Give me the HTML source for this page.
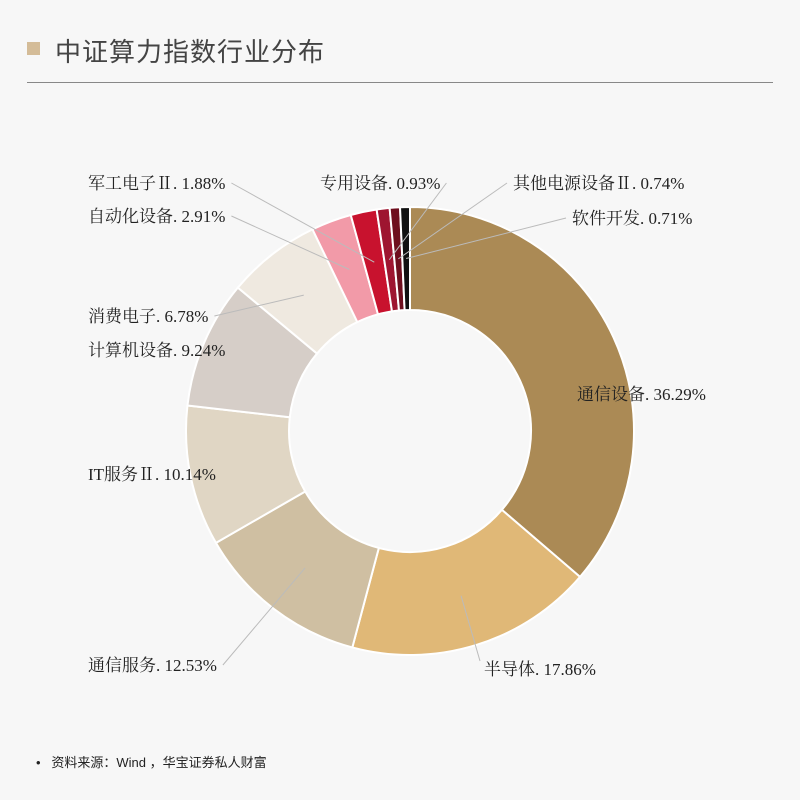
<!DOCTYPE html>
<html><head><meta charset="utf-8">
<style>
body{margin:0;background:#f7f7f7;width:800px;height:800px;overflow:hidden;font-family:"Liberation Serif","Noto Serif CJK SC","Noto Sans CJK SC",serif;}
#title{position:absolute;left:55px;top:32px;font-size:26px;color:#444;font-family:"Liberation Sans","Noto Sans CJK SC",sans-serif;letter-spacing:1px}
#title-mark{position:absolute;left:27px;top:42px;width:13px;height:13px;background:#d4bc98}
#rule{position:absolute;left:27px;top:82px;width:746px;height:1px;background:#888}
#src{position:absolute;left:36px;top:752px;font-size:13px;color:#222;font-family:"Liberation Sans","Noto Sans CJK SC",sans-serif}
svg{position:absolute;left:0;top:0}
</style></head><body>
<div id="title-mark"></div>
<div id="title">中证算力指数行业分布</div>
<div id="rule"></div>
<svg id="chart" width="800" height="800"></svg>
<div id="src">•&nbsp;&nbsp;&nbsp;资料来源：Wind ，华宝证券私人财富</div>
<script>
const categories=["通信设备","半导体","通信服务","IT服务Ⅱ","计算机设备","消费电子","自动化设备","军工电子Ⅱ","专用设备","其他电源设备Ⅱ","软件开发"];
const values=[36.29,17.86,12.53,10.14,9.24,6.78,2.91,1.88,0.93,0.74,0.71];
const colors=["#ab8a55","#e0b877","#cfbfa2","#e0d6c4","#d6cec8","#efe9e0","#f29aa8","#c8122e","#9e1530","#6e0f1e","#111111"];
const labelPos=[[577,400],[484,675],[88,671],[88,480],[88,356],[88,322],[88,222],[88,189],[320,189],[513,189],[572,224]];
const cx=410,cy=431,ro=224,ri=121;
const svg=document.getElementById('chart');
const NS="http://www.w3.org/2000/svg";
const total=values.reduce((a,b)=>a+b,0);
function pt(a,r){return [cx+r*Math.sin(a),cy-r*Math.cos(a)];}
let acc=0;
values.forEach((v,i)=>{
  const a0=acc/total*2*Math.PI;acc+=v;const a1=acc/total*2*Math.PI;
  const large=(a1-a0)>Math.PI?1:0;
  const p0=pt(a0,ro),p1=pt(a1,ro),q1=pt(a1,ri),q0=pt(a0,ri);
  const path=document.createElementNS(NS,'path');
  path.setAttribute('d',`M${p0[0]},${p0[1]}A${ro},${ro} 0 ${large} 1 ${p1[0]},${p1[1]}L${q1[0]},${q1[1]}A${ri},${ri} 0 ${large} 0 ${q0[0]},${q0[1]}Z`);
  path.setAttribute('fill',colors[i]);path.setAttribute('stroke','#fff');path.setAttribute('stroke-width','2');
  
  
  svg.appendChild(path);
});
acc=0;
values.forEach((v,i)=>{
  const am=(acc+v/2)/total*2*Math.PI;acc+=v;
  const [lx,ly]=labelPos[i];
  const t=document.createElementNS(NS,'text');
  t.setAttribute('x',lx);t.setAttribute('y',ly);t.setAttribute('font-size','17');t.setAttribute('fill','#222');
  t.textContent=categories[i]+". "+values[i].toFixed(2)+"%";
  
  
  svg.appendChild(t);
  if(i===0||i===3||i===4)return;
  const m=pt(am,(ri+ro)/2);
  const w=t.getComputedTextLength?t.getComputedTextLength():120;
  let ex=lx>cx?lx-6:lx+w+6, ey=ly-6;
  if(i===1){ex=lx-4;ey=ly-14;}
  const l=document.createElementNS(NS,'line');
  l.setAttribute('x1',ex);l.setAttribute('y1',ey);l.setAttribute('x2',m[0]);l.setAttribute('y2',m[1]);
  l.setAttribute('stroke','#bbb');l.setAttribute('stroke-width','1');
  
  
  svg.appendChild(l);
});
</script>
</body></html>
